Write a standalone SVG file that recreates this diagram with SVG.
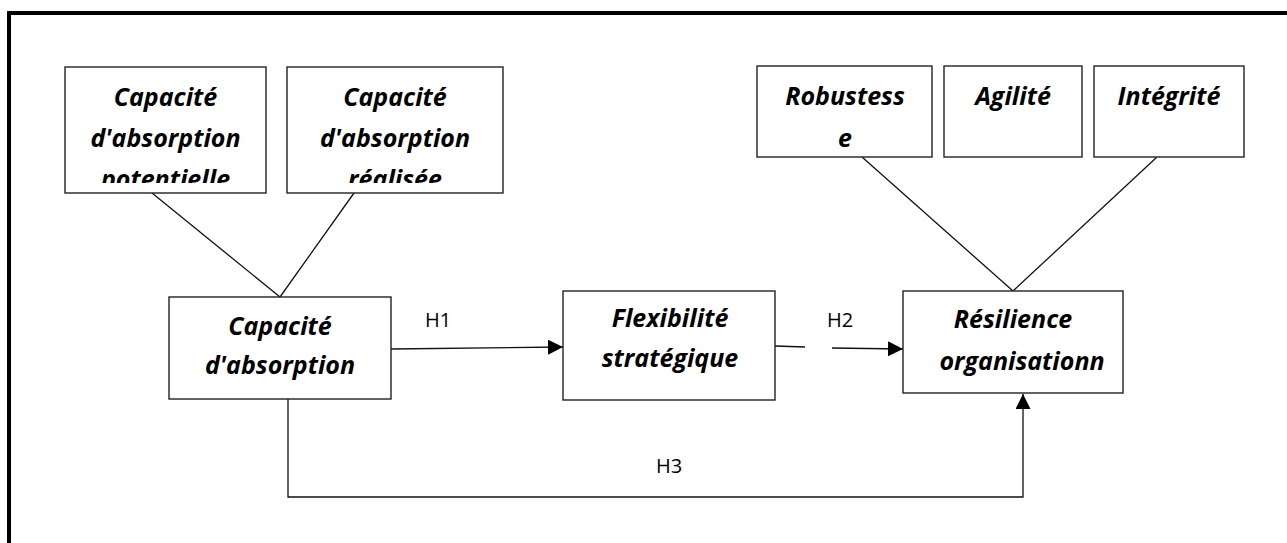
<svg xmlns="http://www.w3.org/2000/svg" width="1287" height="543" viewBox="0 0 1287 543">
<style>
.box{fill:#fff;stroke:#222;stroke-width:1.4}
.t{font-family:"Open Sans","Noto Sans",sans-serif;font-weight:bold;font-style:italic;font-size:25px;fill:#000;text-anchor:middle}
.lbl{font-family:"Open Sans","Noto Sans",sans-serif;font-size:20px;fill:#000;text-anchor:middle}
.ln{stroke:#111;stroke-width:1.3;fill:none}
</style>
<defs>
<marker id="ah" markerUnits="userSpaceOnUse" markerWidth="15" markerHeight="15" refX="15" refY="7.5" orient="auto">
<path d="M0,0 L15,7.5 L0,15 Z" fill="#000"/>
</marker>
<clipPath id="cA"><rect x="65" y="67" width="201" height="116"/></clipPath>
<clipPath id="cB"><rect x="287" y="67" width="216" height="116"/></clipPath>
</defs>
<rect width="1287" height="543" fill="#fff"/>
<path d="M9,543 L9,13 L1290,13" fill="none" stroke="#000" stroke-width="4"/>

<g id="connectors">
<line class="ln" x1="152" y1="193" x2="280" y2="297"/>
<line class="ln" x1="354" y1="193" x2="280" y2="297"/>
<line class="ln" x1="862" y1="157" x2="1013" y2="291"/>
<line class="ln" x1="1157" y1="157" x2="1013" y2="291"/>
<line class="ln" x1="391" y1="349" x2="563" y2="347" marker-end="url(#ah)"/>
<line class="ln" x1="775" y1="346" x2="805" y2="347"/>
<line class="ln" x1="832" y1="348" x2="903" y2="349" marker-end="url(#ah)"/>
<path class="ln" d="M288,399 L288,497 L1023,497 L1023,394" marker-end="url(#ah)"/>
<text class="lbl" x="438" y="327">H1</text>
<text class="lbl" x="840" y="327">H2</text>
<text class="lbl" x="669" y="473">H3</text>
</g>

<g id="node-potentielle">
<rect class="box" x="65" y="67" width="201" height="126"/>
<g clip-path="url(#cA)">
<text class="t" x="165.5" y="106">Capacité</text>
<text class="t" x="165.5" y="147">d'absorption</text>
<text class="t" x="165.5" y="188">potentielle</text>
</g>
</g>
<g id="node-realisee">
<rect class="box" x="287" y="67" width="216" height="126"/>
<g clip-path="url(#cB)">
<text class="t" x="395" y="106">Capacité</text>
<text class="t" x="395" y="147">d'absorption</text>
<text class="t" x="395" y="188">réalisée</text>
</g>
</g>
<g id="node-robustesse">
<rect class="box" x="757" y="66" width="175" height="91"/>
<text class="t" x="845" y="105">Robustess</text>
<text class="t" x="845" y="147">e</text>
</g>
<g id="node-agilite">
<rect class="box" x="944" y="66" width="138" height="91"/>
<text class="t" x="1013" y="105">Agilité</text>
</g>
<g id="node-integrite">
<rect class="box" x="1094" y="66" width="150" height="91"/>
<text class="t" x="1169" y="105">Intégrité</text>
</g>
<g id="node-capacite">
<rect class="box" x="169" y="297" width="222" height="102"/>
<text class="t" x="280" y="335">Capacité</text>
<text class="t" x="280" y="374">d'absorption</text>
</g>
<g id="node-flexibilite">
<rect class="box" x="563" y="291" width="212" height="109"/>
<text class="t" x="670" y="327">Flexibilité</text>
<text class="t" x="670" y="367">stratégique</text>
</g>
<g id="node-resilience">
<rect class="box" x="903" y="291" width="220" height="102"/>
<text class="t" x="1013" y="328">Résilience</text>
<text class="t" x="1022" y="370">organisationn</text>
</g>
</svg>
